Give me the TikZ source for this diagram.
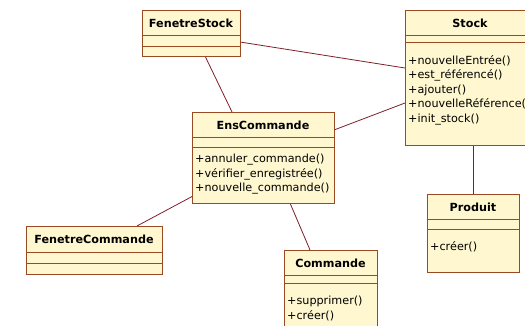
\documentclass[tikz,border=0pt]{standalone}
\usepackage{fontspec}
\setmainfont{DejaVu Sans}
\definecolor{classfill}{HTML}{FEF7CF}
\definecolor{classedge}{HTML}{9A4A22}
\definecolor{assoc}{HTML}{7F1F2A}
\tikzset{
  classbox/.style={draw=classedge, fill=classfill, line width=0.9pt, inner sep=0pt, rectangle},
  divider/.style={draw=classedge, line width=0.9pt},
  classtitle/.style={font=\fontsize{11.2}{13}\selectfont\bfseries, inner sep=0pt},
  ops/.style={font=\fontsize{11.2}{14.5}\selectfont, align=left, inner sep=0pt, anchor=north west},
  link/.style={draw=assoc, line width=0.8pt}
}
% class frame: name, left, top, right, bottom, first divider, second divider, title
\newcommand\umlclass[8]{%
  \node[classbox, anchor=north west, minimum width={(#4-#2)*1pt}, minimum height={(#5-#3)*1pt}] (#1) at (#2,#3) {};
  \draw[divider] (#2,#6) -- (#4,#6);
  \draw[divider] (#2,#7) -- (#4,#7);
  \node[classtitle] (#1-title) at ({(#2+#4)/2},{(#3+#6)/2+0.5}) {#8};
}
\begin{document}
\begin{tikzpicture}[x=1pt,y=-1pt]
\useasboundingbox (0,0) rectangle (525,326);
\clip (0,0) rectangle (525,326);
\fill[white] (0,0) rectangle (525,326);

% associations
\coordinate (fsR) at (240,42);
\coordinate (stL1) at (405,68);
\coordinate (fsB) at (205,56);
\coordinate (ecT) at (232,112);
\coordinate (ecR) at (334,130);
\coordinate (stL2) at (405,103);
\coordinate (ecBL) at (193,196);
\coordinate (fcT) at (137,226);
\coordinate (ecB) at (290,203);
\coordinate (cmT) at (310,250);
\coordinate (stB) at (473,145);
\coordinate (prT) at (473,194);
\draw[link] (fsR) -- (stL1);
\draw[link] (fsB) -- (ecT);
\draw[link] (ecR) -- (stL2);
\draw[link] (ecBL) -- (fcT);
\draw[link] (ecB) -- (cmT);
\draw[link] (stB) -- (prT);

% classes
\umlclass{fenetreStock}{142}{10}{240}{56}{35}{46}{FenetreStock}
\umlclass{stock}{405}{10}{535}{145}{35}{42}{Stock}
\node[ops] (stock-ops) at (408,55) {+nouvelleEntrée()\\+est\_référencé()\\+ajouter()\\+nouvelleRéférence()\\+init\_stock()};
\umlclass{ensCommande}{192}{112}{334}{203}{137}{147}{EnsCommande}
\node[ops] (ens-ops) at (195,154) {+annuler\_commande()\\+vérifier\_enregistrée()\\+nouvelle\_commande()};
\umlclass{fenetreCommande}{26}{226}{162}{274}{252}{263}{FenetreCommande}
\umlclass{commande}{284}{250}{377}{340}{275}{283}{Commande}
\node[ops] (cmd-ops) at (287,296) {+supprimer()\\+créer()};
\umlclass{produit}{427}{194}{519}{272}{219}{229}{Produit}
\node[ops] (prod-ops) at (430,241) {+créer()};
\end{tikzpicture}
\end{document}
